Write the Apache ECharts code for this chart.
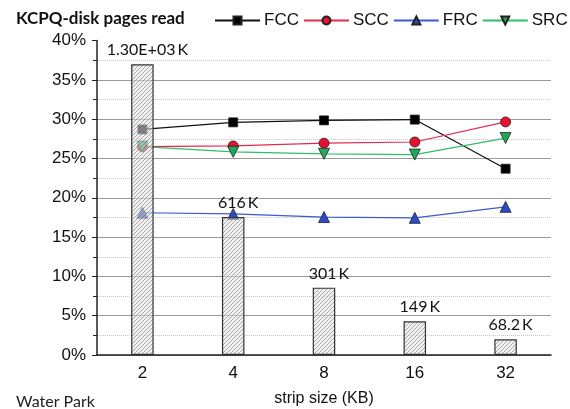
<!DOCTYPE html>
<html><head><meta charset="utf-8">
<script src="https://cdn.jsdelivr.net/npm/echarts@6/dist/echarts.min.js"></script>
<style>html,body{margin:0;padding:0;background:#fff}#c{width:570px;height:409px}</style>
</head><body><div id="c"></div>
<script>
var categories = ['2', '4', '8', '16', '32'];
var barValues = [37.0, 17.55, 8.57, 4.3, 2.0];
var barLabels = ['1.30E+03', '616', '301', '149', '68.2'];
var fcc = [28.7, 29.6, 29.85, 29.95, 23.7];
var scc = [26.5, 26.6, 26.95, 27.1, 29.65];
var frc = [18.1, 17.95, 17.55, 17.45, 18.85];
var src = [26.5, 25.85, 25.6, 25.5, 27.6];
var yTicks = [0, 5, 10, 15, 20, 25, 30, 35, 40];

function hatch() {
  var c = document.createElement('canvas');
  c.width = 4; c.height = 4;
  var g = c.getContext('2d');
  g.fillStyle = 'rgba(230,230,230,0.55)';
  g.fillRect(0, 0, 4, 4);
  g.strokeStyle = 'rgba(120,120,120,0.75)';
  g.lineWidth = 0.8;
  g.beginPath();
  for (var k = -4; k <= 8; k += 4) {
    g.moveTo(k, 4); g.lineTo(k + 4, 0);
  }
  g.stroke();
  return c;
}

var chart = echarts.init(document.getElementById('c'), null, {renderer: 'canvas'});
var gridColors = yTicks.map(function (v, i) { return i === yTicks.length - 1 ? 'rgba(0,0,0,0)' : '#9a9a9a'; });

function lineSeries(name, data, color, markerColor, symbol, size, rot) {
  return {
    name: name, type: 'line', data: data, z: 2,
    symbol: symbol, symbolSize: size, symbolRotate: rot || 0,
    lineStyle: {color: color, width: 1.2},
    itemStyle: {color: markerColor, borderColor: '#222', borderWidth: 0.8},
    emphasis: {disabled: true}
  };
}

chart.setOption({
  animation: false,
  textStyle: {fontFamily: 'Liberation Sans'},
  title: [
    {text: 'KCPQ-disk pages read', left: 11, top: 5,
     textStyle: {fontFamily: 'Lato', fontWeight: 'bold', fontSize: 17, color: '#111'}},
    {text: 'Water Park', left: 11, top: 389,
     textStyle: {fontFamily: 'Lato', fontWeight: 'normal', fontSize: 16, color: '#222'}}
  ],
  legend: {
    left: 209, top: 7, width: 361, itemWidth: 45, itemHeight: 10, itemGap: 4,
    textStyle: {fontFamily: 'Liberation Sans', fontSize: 17, color: '#111', padding: [0, 0, 0, -1]},
    data: ['FCC', 'SCC', 'FRC', 'SRC']
  },
  grid: {left: 97, right: 19, top: 40.6, bottom: 54, containLabel: false, outerBoundsMode: 'none'},
  xAxis: {
    type: 'category', data: categories,
    name: 'strip size (KB)', nameLocation: 'middle', nameGap: 36,
    nameTextStyle: {fontSize: 16, color: '#111', fontFamily: 'Liberation Sans'},
    axisLine: {lineStyle: {color: '#222', width: 1.5}},
    axisTick: {alignWithLabel: true, length: 5, lineStyle: {color: '#222'}},
    axisLabel: {fontSize: 17, color: '#111', margin: 10}
  },
  yAxis: {
    type: 'value', min: 0, max: 40, interval: 5,
    axisLine: {show: true, lineStyle: {color: '#222', width: 1.5}},
    axisTick: {show: true, length: 5, lineStyle: {color: '#222'}},
    minorTick: {show: true, splitNumber: 2, length: 4, lineStyle: {color: '#222'}},
    minorSplitLine: {show: true, lineStyle: {color: '#c8c8c8', type: 'dotted'}},
    splitLine: {show: true, lineStyle: {color: gridColors, width: 1}},
    axisLabel: {fontSize: 17, color: '#111', margin: 11, formatter: '{value}%'}
  },
  series: [
    {
      name: 'reads', type: 'bar', data: barValues, barWidth: 22.5, z: 3,
      itemStyle: {color: {image: hatch(), repeat: 'repeat'}, borderColor: '#333', borderWidth: 1.2},
      label: {
        show: true, position: 'top', distance: 6, offset: [5, 0],
        fontFamily: 'Lato', fontSize: 16, color: '#111',
        formatter: function (p) { return barLabels[p.dataIndex] + '\u2009K'; }
      },
      emphasis: {disabled: true}
    },
    lineSeries('FCC', fcc, '#111', '#000', 'rect', 9),
    lineSeries('SCC', scc, '#e8284c', '#e8102c', 'circle', 10),
    lineSeries('FRC', frc, '#3a5ad8', '#2a4cc8', 'triangle', 11),
    lineSeries('SRC', src, '#2fbf6a', '#22a85a', 'triangle', 11, 180)
  ]
});
</script>
</body></html>
